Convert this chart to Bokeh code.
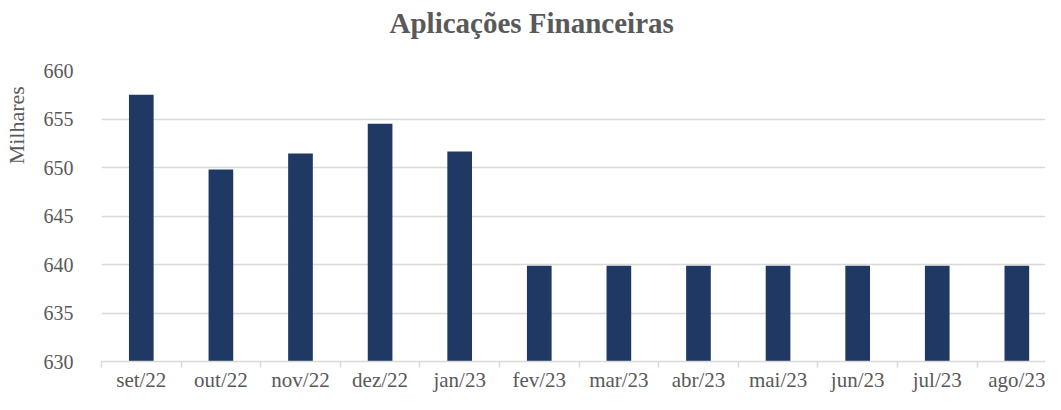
from bokeh.plotting import figure
from bokeh.models import Range1d, FixedTicker
from bokeh.embed import file_html
from bokeh.resources import INLINE

# ---- data ----
months = ["set/22", "out/22", "nov/22", "dez/22", "jan/23", "fev/23",
          "mar/23", "abr/23", "mai/23", "jun/23", "jul/23", "ago/23"]
values = [657.5, 649.8, 651.45, 654.5, 651.65, 639.86,
          639.86, 639.86, 639.86, 639.86, 639.86, 639.86]
y_ticks = [630, 635, 640, 645, 650, 655, 660]
title_text = "Aplicações Financeiras"
y_title = "Milhares"

FONT = "Liberation Serif"
TXT = "#595959"
GRID = "#D9D9D9"
BAR = "#1F3864"
NBSP = "\u00a0"

idx = list(range(len(months)))

p = figure(width=1045, height=394, output_backend="svg", toolbar_location=None,
           x_range=Range1d(-0.5, 11.36), y_range=Range1d(630, 660),
           min_border_left=100, min_border_right=0, min_border_top=70,
           min_border_bottom=33)
p.outline_line_color = None
p.background_fill_color = "white"
p.border_fill_color = "white"

p.vbar(x=idx, top=values, bottom=630, width=0.31,
       fill_color=BAR, line_color=None)

# title (second, blank line lifts the text away from the plot area)
p.title.text = title_text + "\n" + NBSP
p.title.align = "left"
p.title.offset = 288
p.title.standoff = 0
p.title.text_font = FONT
p.title.text_font_size = "29px"
p.title.text_font_style = "bold"
p.title.text_color = TXT

# x axis
xa = p.xaxis[0]
xa.ticker = FixedTicker(ticks=idx, minor_ticks=[i - 0.5 for i in range(len(months) + 1)])
xa.major_label_overrides = {i: m for i, m in zip(idx, months)}
xa.major_tick_line_color = None
xa.major_tick_out = 0
xa.major_tick_in = 0
xa.minor_tick_line_color = GRID
xa.minor_tick_line_width = 1.5
xa.minor_tick_out = 6
xa.minor_tick_in = 0
xa.axis_line_color = GRID
xa.axis_line_width = 1.5
xa.major_label_standoff = 0
xa.major_label_text_font = FONT
xa.major_label_text_font_size = "21px"
xa.major_label_text_color = TXT

# y axis
ya = p.yaxis[0]
ya.ticker = FixedTicker(ticks=y_ticks)
ya.axis_line_color = None
ya.major_tick_line_color = None
ya.minor_tick_line_color = None
ya.major_tick_out = 0
ya.major_tick_in = 0
ya.major_label_standoff = 28
ya.major_label_text_font = FONT
ya.major_label_text_font_size = "20px"
ya.major_label_text_color = TXT
# leading no-break spaces push the visible label toward the top, as in the reference
ya.axis_label = NBSP * 33 + y_title
ya.axis_label_standoff = 12
ya.axis_label_text_font = FONT
ya.axis_label_text_font_size = "22px"
ya.axis_label_text_font_style = "normal"
ya.axis_label_text_color = TXT

p.xgrid.visible = False
p.ygrid.ticker = FixedTicker(ticks=y_ticks)
p.ygrid.grid_line_color = GRID
p.ygrid.grid_line_width = 1.5

open("out.html", "w").write(file_html(p, INLINE))
